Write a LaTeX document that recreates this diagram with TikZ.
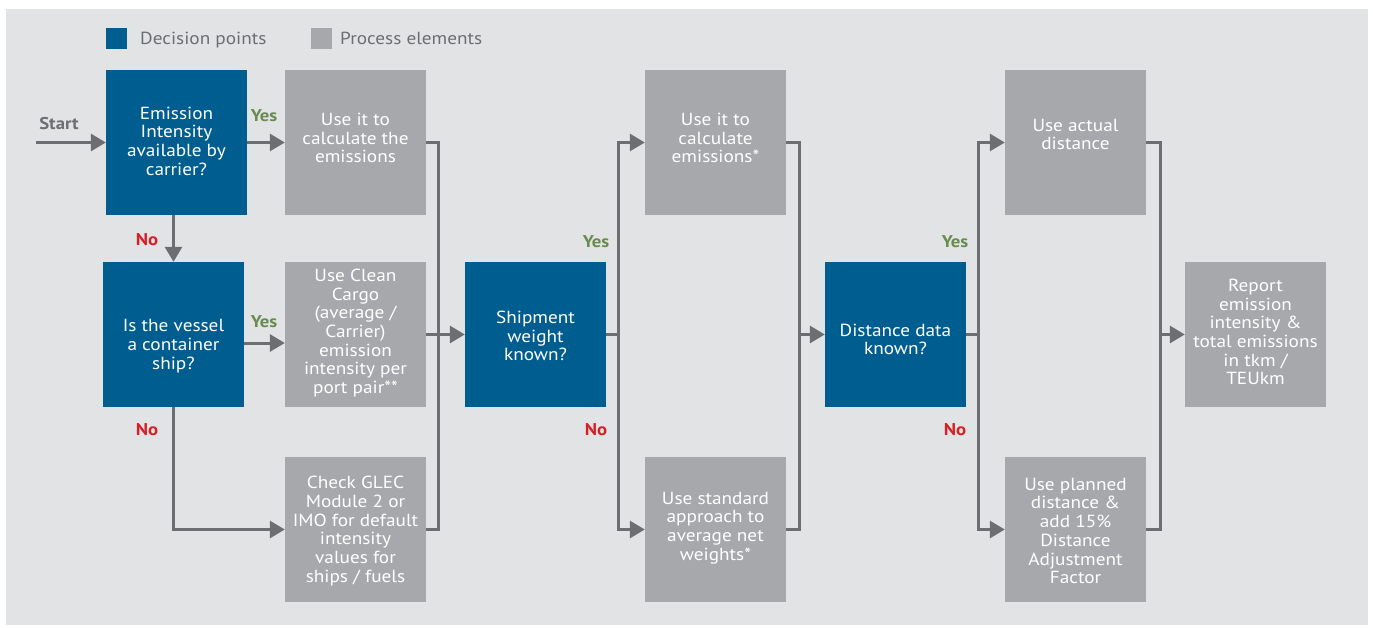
\documentclass[tikz,border=0pt]{standalone}
\usepackage{fontspec}
\setmainfont[FakeStretch=1.1]{PT Sans}
\usetikzlibrary{arrows.meta}
\definecolor{bgcol}{RGB}{226,227,229}
\definecolor{decblue}{RGB}{0,93,143}
\definecolor{procgray}{RGB}{167,168,171}
\definecolor{linegray}{RGB}{109,110,113}
\definecolor{yesgreen}{RGB}{104,140,78}
\definecolor{nored}{RGB}{216,30,38}
\tikzset{
  box/.style={rectangle, minimum width=141pt, minimum height=145pt, inner sep=0pt},
  decision/.style={box, fill=decblue},
  process/.style={box, fill=procgray},
  boxtext/.style={align=center, text=white, font=\fontsize{17.5}{18.7}\selectfont, inner sep=0pt},
  legtext/.style={anchor=base west, text=linegray, font=\fontsize{17.5}{18.7}\selectfont, inner sep=0pt},
  yes/.style={text=yesgreen, font=\fontsize{17}{18.7}\selectfont\bfseries, inner sep=0pt},
  no/.style={text=nored, font=\fontsize{17}{18.7}\selectfont\bfseries, inner sep=0pt},
  conn/.style={draw=linegray, line width=3pt},
  arr/.style={conn, -{Triangle[length=15pt,width=17pt]}}
}
\begin{document}
\begin{tikzpicture}[x=1pt, y=-1pt]
  \useasboundingbox (0,0) rectangle (1373,628);
  \fill[bgcol] (6,9) rectangle (1368,625);

  % legend
  \node[decision, minimum width=21pt, minimum height=21pt] (legdec) at (116.5,38.5) {};
  \node[legtext] (legdect) at (140,44.5) {Decision points};
  \node[process, minimum width=21pt, minimum height=21pt] (legproc) at (321.5,38.5) {};
  \node[legtext] (legproct) at (340,44.5) {Process elements};

  % boxes
  \node[decision] (d1) at (176.5,142.5) {};
  \node[process] (p1) at (355.5,142.5) {};
  \node[decision] (d2) at (173.5,334.5) {};
  \node[process] (p2) at (355.5,334.5) {};
  \node[process] (p3) at (355.5,529.5) {};
  \node[decision] (d3) at (535.5,334.5) {};
  \node[process] (p4) at (715.5,142.5) {};
  \node[process] (p5) at (715.5,529.5) {};
  \node[decision] (d4) at (895.5,334.5) {};
  \node[process] (p6) at (1075.5,142.5) {};
  \node[process] (p7) at (1075.5,529.5) {};
  \node[process] (p8) at (1255.5,334.5) {};

  % texts
  \node[boxtext] (d1t) at ([yshift=1.5pt]d1) {Emission\\Intensity\\available by\\carrier?};
  \node[boxtext] (p1t) at ([yshift=4.5pt]p1) {Use it to\\calculate the\\emissions};
  \node[boxtext] (d2t) at ([yshift=-11.5pt]d2) {Is the vessel\\a container\\ship?};
  \node[boxtext] (p2t) at ([yshift=1.5pt]p2) {Use Clean\\Cargo\\(average /\\Carrier)\\emission\\intensity per\\port pair**};
  \node[boxtext] (p3t) at ([yshift=-1.5pt]p3) {Check GLEC\\Module 2 or\\IMO for default\\intensity\\values for\\ships / fuels};
  \node[boxtext] (d3t) at ([yshift=-1.5pt]d3) {Shipment\\weight\\known?};
  \node[boxtext] (p4t) at ([yshift=4.5pt]p4) {Use it to\\calculate\\emissions*};
  \node[boxtext] (p5t) at ([yshift=1.5pt]p5) {Use standard\\approach to\\average net\\weights*};
  \node[boxtext] (d4t) at ([yshift=-5pt]d4) {Distance data\\known?};
  \node[boxtext] (p6t) at ([yshift=8pt]p6) {Use actual\\distance};
  \node[boxtext] (p7t) at ([yshift=-1.5pt]p7) {Use planned\\distance \&\\add 15\%\\Distance\\Adjustment\\Factor};
  \node[boxtext] (p8t) at ([yshift=2.5pt]p8) {Report\\emission\\intensity \&\\total emissions\\in tkm /\\TEUkm};

  % junctions
  \coordinate (start) at (36,142.5);
  \coordinate (j1) at (438,334.5);
  \coordinate (j2) at (618,334.5);
  \coordinate (j3) at (799,334.5);
  \coordinate (j4) at (978,334.5);
  \coordinate (j5) at (1160,334.5);

  % connectors
  \draw[arr] (start) -- (d1);
  \node[text=linegray, font=\fontsize{17}{18.7}\selectfont\bfseries, inner sep=0pt] (startl) at (59,124) {Start};
  \draw[arr] (d1) -- (p1);
  \node[yes] (y1) at (264,116) {Yes};
  \draw[arr] (d1.south -| d2) -- (d2.north);
  \node[no] (n1) at (147,240) {No};
  \draw[arr] ([yshift=-8.5pt]d2.east) -- ([yshift=-8.5pt]p2.west);
  \node[yes] (y2) at (264,322) {Yes};
  \draw[arr] (d2.south) |- (p3.west);
  \node[no] (n2) at (147,430) {No};

  \draw[conn] (p1.east) -| (j1);
  \draw[conn] (p3.east) -| (j1);
  \draw[arr] (p2.east) -- (d3.west);

  \draw[conn] (d3.east) -- (j2);
  \draw[arr] (j2) |- (p4.west);
  \draw[arr] (j2) |- (p5.west);
  \node[yes] (y3) at (596,242) {Yes};
  \node[no] (n3) at (596,430) {No};

  \draw[conn] (p4.east) -| (j3);
  \draw[conn] (p5.east) -| (j3);
  \draw[arr] (j3) -- (d4.west);

  \draw[conn] (d4.east) -- (j4);
  \draw[arr] (j4) |- (p6.west);
  \draw[arr] (j4) |- (p7.west);
  \node[yes] (y4) at (955,242) {Yes};
  \node[no] (n4) at (955,430) {No};

  \draw[conn] (p6.east) -| (j5);
  \draw[conn] (p7.east) -| (j5);
  \draw[arr] (j5) -- (p8.west);
\end{tikzpicture}
\end{document}
